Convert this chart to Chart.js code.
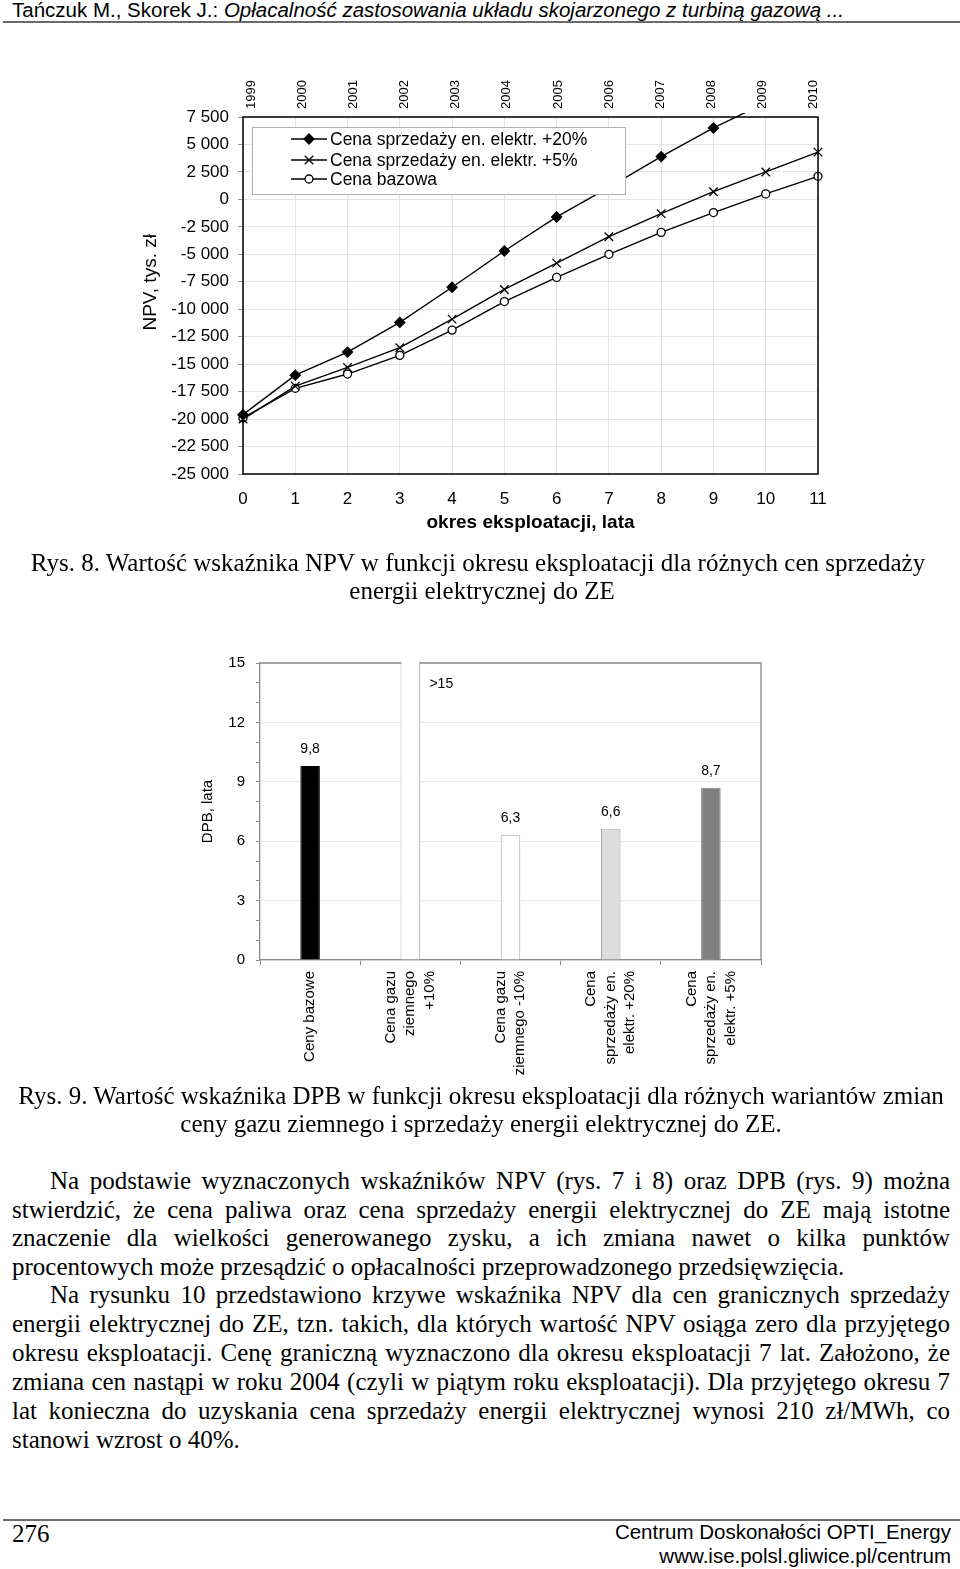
<!DOCTYPE html>
<html>
<head>
<meta charset="utf-8">
<script src="https://cdn.jsdelivr.net/npm/chart.js@4.4.0/dist/chart.umd.min.js"></script>
<style>
  body { margin: 0; background: #fff; width: 960px; height: 1569px; position: relative; overflow: hidden; }
  .t { position: absolute; white-space: nowrap; color: #000; }
  .hd { font-family: "Liberation Sans", Arial, sans-serif; font-size: 20.5px; line-height: 24px; }
  .tm { font-family: "Liberation Serif", "Times New Roman", serif; font-size: 25px; line-height: 28px; }
  .j { text-align: justify; text-align-last: justify; white-space: normal; }
  .rule { position: absolute; left: 3px; width: 957px; height: 2px; background: #6a6a6a; }
  .box { position: absolute; }
</style>
</head>
<body>

<div class="t hd" style="left:12px;top:-2px">Tańczuk M., Skorek J.: <i>Opłacalność zastosowania układu skojarzonego z turbiną gazową ...</i></div>
<div class="rule" style="top:21px"></div>

<div class="box" style="left:130px;top:60px;width:720px;height:490px"><canvas id="npvChart"></canvas></div>

<div class="t tm" style="left:0;width:956px;text-align:center;top:549px">Rys. 8. Wartość wskaźnika NPV w funkcji okresu eksploatacji dla różnych cen sprzedaży</div>
<div class="t tm" style="left:0;width:964px;text-align:center;top:577px">energii elektrycznej do ZE</div>

<div class="box" style="left:180px;top:640px;width:600px;height:450px"><canvas id="dpbChart"></canvas></div>

<div class="t tm" style="left:0;width:962px;text-align:center;top:1082px">Rys. 9. Wartość wskaźnika DPB w funkcji okresu eksploatacji dla różnych wariantów zmian</div>
<div class="t tm" style="left:0;width:962px;text-align:center;top:1110px">ceny gazu ziemnego i sprzedaży energii elektrycznej do ZE.</div>

<div class="t tm j" style="left:50px;width:900px;top:1167px">Na podstawie wyznaczonych wskaźników NPV (rys. 7 i 8) oraz DPB (rys. 9) można</div>
<div class="t tm j" style="left:12px;width:938px;top:1196px">stwierdzić, że cena paliwa oraz cena sprzedaży energii elektrycznej do ZE mają istotne</div>
<div class="t tm j" style="left:12px;width:938px;top:1224px">znaczenie dla wielkości generowanego zysku, a ich zmiana nawet o kilka punktów</div>
<div class="t tm" style="left:12px;top:1253px">procentowych może przesądzić o opłacalności przeprowadzonego przedsięwzięcia.</div>
<div class="t tm j" style="left:50px;width:900px;top:1281px">Na rysunku 10 przedstawiono krzywe wskaźnika NPV dla cen granicznych sprzedaży</div>
<div class="t tm j" style="left:12px;width:938px;top:1310px">energii elektrycznej do ZE, tzn. takich, dla których wartość NPV osiąga zero dla przyjętego</div>
<div class="t tm j" style="left:12px;width:938px;top:1339px">okresu eksploatacji. Cenę graniczną wyznaczono dla okresu eksploatacji 7 lat. Założono, że</div>
<div class="t tm j" style="left:12px;width:938px;top:1368px">zmiana cen nastąpi w roku 2004 (czyli w piątym roku eksploatacji). Dla przyjętego okresu 7</div>
<div class="t tm j" style="left:12px;width:938px;top:1397px">lat konieczna do uzyskania cena sprzedaży energii elektrycznej wynosi 210 zł/MWh, co</div>
<div class="t tm" style="left:12px;top:1426px">stanowi wzrost o 40%.</div>

<div class="rule" style="top:1519px"></div>
<div class="t tm" style="left:12px;top:1520px">276</div>
<div class="t hd" style="right:9px;top:1520px;text-align:right">Centrum Doskonałości OPTI_Energy</div>
<div class="t hd" style="right:9px;top:1544px;text-align:right">www.ise.polsl.gliwice.pl/centrum</div>

<script>
// --- Rys. 8: NPV vs okres eksploatacji ---
const okres = [0, 1, 2, 3, 4, 5, 6, 7, 8, 9, 10, 11];
const lata = ['1999', '2000', '2001', '2002', '2003', '2004', '2005', '2006', '2007', '2008', '2009', '2010'];
// point 7 of the +20% curve sits behind the legend box, the last one runs off the top
const npvPlus20 = [-19600, -16000, -13900, -11200, -8000, -4700, -1600, 1100, 3900, 6500, 8800];
const npvPlus5 = [-20000, -17000, -15300, -13500, -10900, -8200, -5800, -3400, -1300, 700, 2500, 4300];
const npvBazowa = [-19900, -17200, -15900, -14200, -11900, -9300, -7100, -5000, -3000, -1200, 500, 2100];
const npvNazwy = ['Cena sprzedaży en. elektr. +20%', 'Cena sprzedaży en. elektr. +5%', 'Cena bazowa'];

// --- Rys. 9: DPB ---
const warianty = [
  ['Ceny bazowe'],
  ['Cena gazu', 'ziemnego', '+10%'],
  ['Cena gazu', 'ziemnego -10%'],
  ['Cena', 'sprzedaży en.', 'elektr. +20%'],
  ['Cena', 'sprzedaży en.', 'elektr. +5%']
];
const dpb = [9.8, 16, 6.3, 6.6, 8.7];
const dpbOpisy = ['9,8', '>15', '6,3', '6,6', '8,7'];

const SANS = '"Liberation Sans", Arial, sans-serif';
Chart.defaults.font.family = SANS;
Chart.defaults.color = '#000';

function fmtTys(v) {
  const s = String(Math.abs(v)).replace(/\B(?=(\d{3})+(?!\d))/g, ' ');
  return (v < 0 ? '-' : '') + s;
}

const pts = arr => arr.map((v, i) => ({ x: okres[i], y: v }));

const npvFrame = {
  id: 'npvFrame',
  afterDatasetsDraw(chart) {
    const a = chart.chartArea, ctx = chart.ctx;
    ctx.save();
    ctx.strokeStyle = '#000';
    ctx.lineWidth = 1.5;
    ctx.strokeRect(a.left, a.top, a.right - a.left, a.bottom - a.top);

    // legend box inside the plot
    const bx = a.left + 9, by = a.top + 10, bw = 373, bh = 67;
    ctx.fillStyle = '#fff';
    ctx.fillRect(bx, by, bw, bh);
    ctx.strokeStyle = '#b0b0b0';
    ctx.lineWidth = 1;
    ctx.strokeRect(bx + 0.5, by + 0.5, bw, bh);
    const rows = [22, 43, 62];
    chart.data.datasets.forEach((ds, i) => {
      const y = a.top + rows[i];
      ctx.strokeStyle = '#000';
      ctx.lineWidth = 1.3;
      ctx.beginPath();
      ctx.moveTo(a.left + 48, y);
      ctx.lineTo(a.left + 84, y);
      ctx.stroke();
      ctx.fillStyle = ds.pointBackgroundColor;
      Chart.helpers.drawPoint(ctx, {
        pointStyle: ds.pointStyle, radius: ds.pointRadius, borderWidth: 1.3, rotation: 0
      }, a.left + 66, y);
      ctx.fillStyle = '#000';
      ctx.font = '17.5px ' + SANS;
      ctx.textAlign = 'left';
      ctx.textBaseline = 'middle';
      ctx.fillText(npvNazwy[i], a.left + 87, y + 1);
    });
    ctx.restore();
  }
};

const common = {
  borderColor: '#000',
  borderWidth: 1.4,
  pointBorderColor: '#000',
  pointBorderWidth: 1.3,
  tension: 0,
  clip: { left: 8, right: 8, top: 4, bottom: 8 }
};

new Chart(document.getElementById('npvChart'), {
  type: 'line',
  data: {
    datasets: [
      { ...common, label: npvNazwy[0], data: pts(npvPlus20), pointStyle: 'rectRot', pointRadius: 5, pointBackgroundColor: '#000' },
      { ...common, label: npvNazwy[1], data: pts(npvPlus5), pointStyle: 'crossRot', pointRadius: 6, pointBackgroundColor: '#000' },
      { ...common, label: npvNazwy[2], data: pts(npvBazowa), pointStyle: 'circle', pointRadius: 4, pointBackgroundColor: '#fff' }
    ]
  },
  options: {
    responsive: true,
    maintainAspectRatio: false,
    animation: false,
    layout: { padding: { left: 0, right: 32, top: 0, bottom: 0 } },
    plugins: { legend: { display: false }, tooltip: { enabled: false } },
    scales: {
      x: {
        type: 'linear', position: 'bottom', min: 0, max: 11,
        ticks: { stepSize: 1, font: { size: 17 }, padding: 15 },
        grid: { color: '#e4e4e4', drawTicks: false },
        border: { display: false },
        title: { display: true, text: 'okres eksploatacji, lata', font: { size: 19, weight: 'bold' }, padding: { top: 0, bottom: 16 } },
        afterFit: s => { s.height = 76; }
      },
      // year axis on top is a bit narrower than the bottom one
      x2: {
        type: 'linear', position: 'top', min: -0.137, max: 11.117,
        afterBuildTicks: s => { s.ticks = okres.map(v => ({ value: v })); },
        ticks: { callback: v => lata[v], minRotation: 90, maxRotation: 90, font: { size: 13 }, padding: 8, labelOffset: 17 },
        grid: { drawOnChartArea: false, drawTicks: false },
        border: { display: false },
        afterFit: s => { s.height = 57; }
      },
      y: {
        min: -25000, max: 7500,
        ticks: { stepSize: 2500, callback: fmtTys, font: { size: 17 }, padding: 9 },
        grid: { color: '#e4e4e4', tickColor: '#999', tickLength: 5 },
        border: { display: false },
        title: { display: true, text: '\u00a0\u00a0\u00a0\u00a0\u00a0NPV, tys. zł', font: { size: 19 }, padding: { top: 9, bottom: 0 } },
        afterFit: s => { s.width = 113; }
      }
    }
  },
  plugins: [npvFrame]
});

const dpbDecor = {
  id: 'dpbDecor',
  beforeDatasetsDraw(chart) {
    const a = chart.chartArea, ctx = chart.ctx;
    ctx.save();
    ctx.strokeStyle = '#8a8a8a';
    ctx.lineWidth = 1.3;
    ctx.beginPath();
    ctx.moveTo(a.left, a.top);
    ctx.lineTo(a.right, a.top);
    ctx.lineTo(a.right, a.bottom);
    ctx.stroke();
    ctx.restore();
  },
  afterDraw(chart) {
    const a = chart.chartArea, ctx = chart.ctx;
    const xs = chart.scales.x;
    const bars = chart.getDatasetMeta(0).data;
    ctx.save();
    ctx.fillStyle = '#000';
    // value labels
    ctx.font = '14px ' + SANS;
    ctx.textAlign = 'center';
    ctx.textBaseline = 'middle';
    bars.forEach((b, i) => {
      if (dpb[i] > 15) {
        ctx.fillText(dpbOpisy[i], b.x + 31, a.top + 21);
      } else {
        ctx.fillText(dpbOpisy[i], b.x, b.y - 17);
      }
    });
    // rotated category labels, centred on each tick
    ctx.font = '15px ' + SANS;
    ctx.textAlign = 'right';
    const lh = 19.5;
    warianty.forEach((lines, i) => {
      const x = xs.getPixelForValue(i);
      lines.forEach((ln, j) => {
        const cx = x + (j - (lines.length - 1) / 2) * lh;
        ctx.save();
        ctx.translate(cx, a.bottom + 11);
        ctx.rotate(-Math.PI / 2);
        ctx.fillText(ln, 0, 0);
        ctx.restore();
      });
    });
    ctx.restore();
  }
};

new Chart(document.getElementById('dpbChart'), {
  type: 'bar',
  data: {
    labels: warianty.map(l => l.join(' ')),
    datasets: [{
      data: dpb,
      backgroundColor: ['#000000', '#ffffff', '#ffffff', '#dcdcdc', '#808080'],
      borderColor: ['#000000', '#b8b8b8', '#a8a8a8', '#9a9a9a', '#808080'],
      borderWidth: c => (dpb[c.dataIndex] > 15 ? { left: 1, right: 1, top: 0, bottom: 0 } : 1),
      barPercentage: 0.195,
      categoryPercentage: 1,
      clip: { left: 0, right: 0, top: 1.5, bottom: 0 }
    }]
  },
  options: {
    responsive: true,
    maintainAspectRatio: false,
    animation: false,
    layout: { padding: { left: 0, right: 19, top: 23, bottom: 0 } },
    plugins: { legend: { display: false }, tooltip: { enabled: false } },
    scales: {
      x: {
        ticks: { display: false },
        grid: { drawOnChartArea: false, drawTicks: true, tickLength: 5, color: '#8a8a8a' },
        border: { color: '#8a8a8a', width: 1.3 },
        afterFit: s => { s.height = 130; }
      },
      y: {
        min: 0, max: 15,
        ticks: { stepSize: 1, autoSkip: false, callback: v => (v % 3 === 0 ? v : ''), font: { size: 15 }, padding: 11 },
        grid: {
          color: c => (c.tick && c.tick.value % 3 === 0 ? '#e8e8e8' : 'rgba(0,0,0,0)'),
          tickColor: '#8a8a8a', tickLength: 4
        },
        border: { color: '#8a8a8a', width: 1.3 },
        title: { display: true, text: 'DPB, lata', font: { size: 15 }, padding: { top: 19, bottom: 0 } },
        afterFit: s => { s.width = 80; }
      }
    }
  },
  plugins: [dpbDecor]
});
</script>
</body>
</html>
